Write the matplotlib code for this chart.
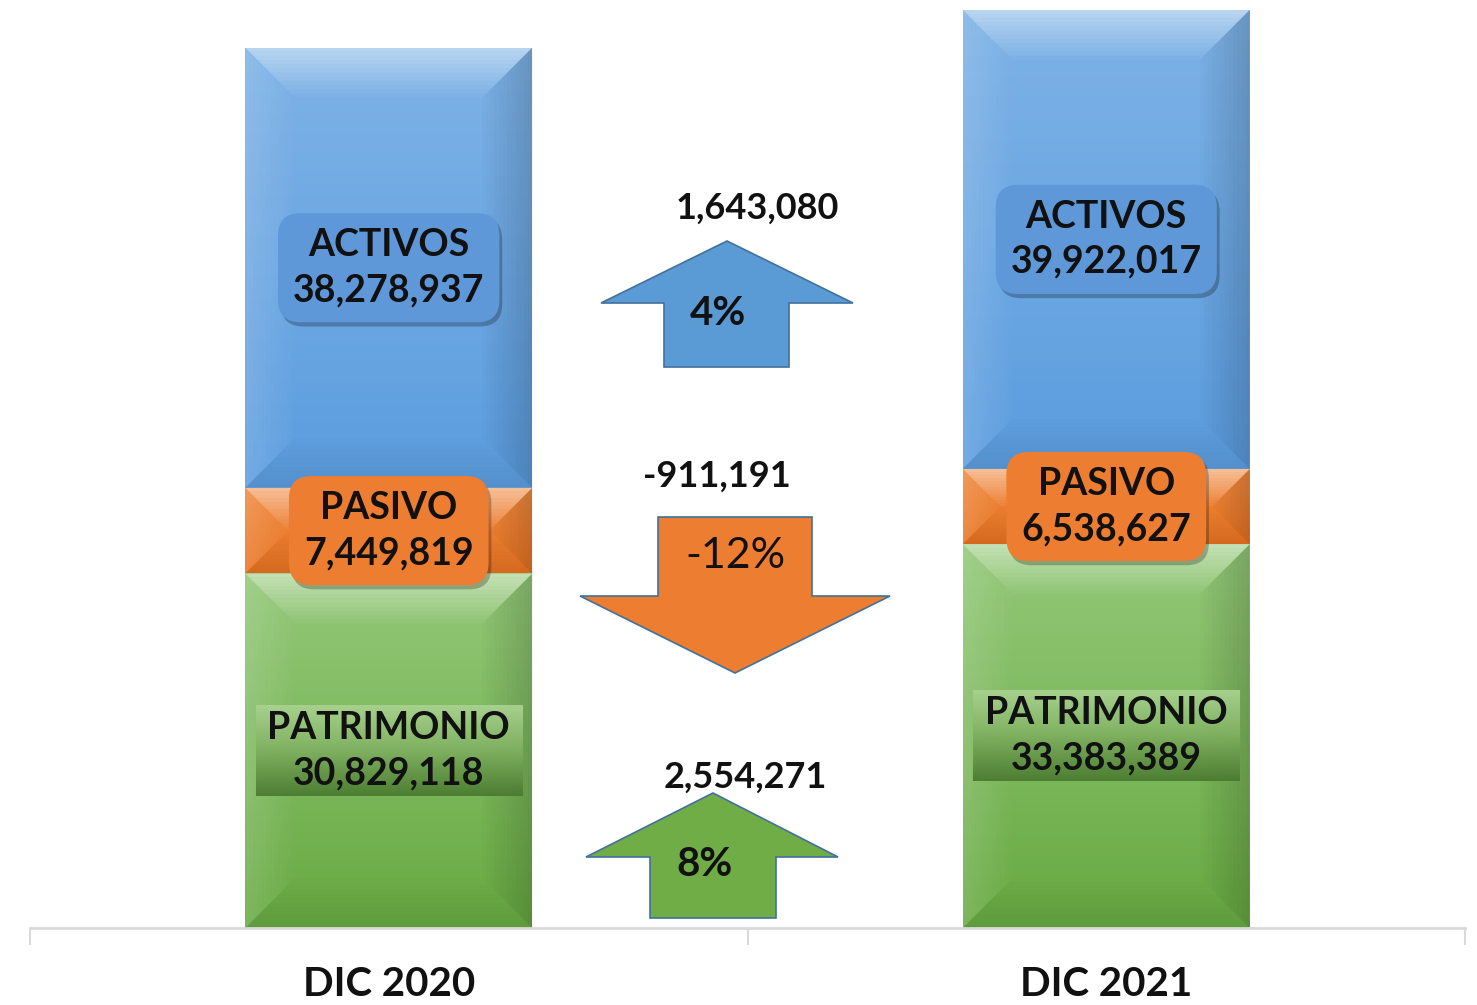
import numpy as np
import matplotlib
matplotlib.use('Agg')
import matplotlib.pyplot as plt
from matplotlib.colors import LinearSegmentedColormap
from matplotlib.patches import Polygon
import matplotlib.patheffects as pe

plt.rcParams['font.family'] = ['Lato', 'DejaVu Sans']

# data
periodos = ['DIC 2020', 'DIC 2021']
patrimonio = [30829118, 33383389]
pasivo = [7449819, 6538627]
activos = [38278937, 39922017]
variacion = [1643080, -911191, 2554271]
variacion_pct = ['4%', '-12%', '8%']

W, H = 1477, 1005
fig = plt.figure(figsize=(W / 100, H / 100), dpi=100)
ax = fig.add_axes([30 / W, 77 / H, 1435 / W, 928 / H])
ax.set_xlim(-0.5, 1.5)
ax.set_ylim(0, 80.7e6)

x = np.arange(len(periodos))
bw = 0.40

series = [
    ('PATRIMONIO', patrimonio, '#93c878', '#68aa42'),
    ('PASIVO', pasivo, '#f08a40', '#e87422'),
    ('ACTIVOS', activos, '#7db2e6', '#5c9ddf'),
]

# pixel -> data scale
sx = 2.0 / 1435
sy = 80.7e6 / 928

bottom = np.zeros(len(x))
segs = []
for name, vals, c_top, c_bot in series:
    bars = ax.bar(x, vals, bw, bottom=bottom, color=c_bot, edgecolor='none', zorder=2)
    cmap = LinearSegmentedColormap.from_list(name, [c_bot, c_top])
    for b in bars:
        x0, y0 = b.get_x(), b.get_y()
        x1, y1 = x0 + b.get_width(), y0 + b.get_height()
        grad = np.linspace(0, 1, 100).reshape(-1, 1)
        im = ax.imshow(grad, extent=(x0, x1, y0, y1), origin='lower', cmap=cmap,
                       aspect='auto', zorder=2.1)
        im.set_clip_path(b)
        # soft bevel: nested bands fading inward
        hpx = b.get_height() / sy
        d = min(50, hpx / 2)
        nb = 12
        for k in range(nb):
            f0, f1 = k / nb, (k + 1) / nb
            a0x, a0y = d * f0 * sx, d * f0 * sy
            a1x, a1y = d * f1 * sx, d * f1 * sy
            fade = 1 - k / nb
            top = [(x0 + a0x, y1 - a0y), (x1 - a0x, y1 - a0y), (x1 - a1x, y1 - a1y), (x0 + a1x, y1 - a1y)]
            bot = [(x0 + a0x, y0 + a0y), (x1 - a0x, y0 + a0y), (x1 - a1x, y0 + a1y), (x0 + a1x, y0 + a1y)]
            lft = [(x0 + a0x, y0 + a0y), (x0 + a0x, y1 - a0y), (x0 + a1x, y1 - a1y), (x0 + a1x, y0 + a1y)]
            rgt = [(x1 - a0x, y0 + a0y), (x1 - a0x, y1 - a0y), (x1 - a1x, y1 - a1y), (x1 - a1x, y0 + a1y)]
            ax.add_patch(Polygon(top, closed=True, fc='white', alpha=0.45 * fade, ec='none', zorder=2.2))
            ax.add_patch(Polygon(lft, closed=True, fc='white', alpha=0.14 * fade, ec='none', zorder=2.2))
            ax.add_patch(Polygon(rgt, closed=True, fc='black', alpha=0.16 * fade, ec='none', zorder=2.2))
            ax.add_patch(Polygon(bot, closed=True, fc='black', alpha=0.08 * fade, ec='none', zorder=2.2))
        segs.append((name, (x0 + x1) / 2, (y0 + y1) / 2, b.get_height()))
    bottom = bottom + np.array(vals)

ax.set_xlim(-0.5, 1.5)
ax.set_ylim(0, 80.7e6)

# segment labels
shadow = [pe.withSimplePatchShadow(offset=(2, -3), shadow_rgbFace='black', alpha=0.25)]
patr_texts = []
for name, cx, cy, val in segs:
    label = f'{name}\n{val:,.0f}'
    kw = dict(ha='center', va='center', fontsize=27, fontweight='bold',
              color='#111111', linespacing=1.4, zorder=5)
    if name == 'ACTIVOS':
        t = ax.text(cx, cy, label, **kw,
                    bbox=dict(boxstyle='round,pad=0.4,rounding_size=0.6', fc='#5f98d8', ec='none'))
        t.get_bbox_patch().set_path_effects(shadow)
    elif name == 'PASIVO':
        t = ax.text(cx, cy, label, **kw,
                    bbox=dict(boxstyle='round,pad=0.4,rounding_size=0.6', fc='#ed7d31', ec='none'))
        t.get_bbox_patch().set_path_effects(shadow)
    else:
        t = ax.text(cx, cy, label, **kw,
                    bbox=dict(boxstyle='square,pad=0.1', fc='none', ec='none'))
        patr_texts.append(t)

# axis styling
for s in ['top', 'right', 'left']:
    ax.spines[s].set_visible(False)
ax.spines['bottom'].set_color('#d9d9d9')
ax.spines['bottom'].set_linewidth(2)
ax.set_yticks([])
ax.set_xticks([-0.5, 0.5, 1.5])
ax.set_xticklabels([])
ax.tick_params(axis='x', which='major', length=12, width=1.5, color='#d9d9d9')
ax.set_xticks(x, minor=True)
ax.set_xticklabels(periodos, minor=True, fontsize=29, fontweight='bold', color='#111111')
ax.tick_params(axis='x', which='minor', length=0, pad=27)

# gradient boxes behind PATRIMONIO labels
fig.canvas.draw()
inv = ax.transData.inverted()
pcmap = LinearSegmentedColormap.from_list('patr', ['#4b7b31', '#7fb060', '#a9d290'])
for t in patr_texts:
    bb = t.get_bbox_patch().get_window_extent()
    (bx0, by0), (bx1, by1) = inv.transform([(bb.x0 - 8, bb.y0 - 2), (bb.x1 + 8, bb.y1 + 2)])
    grad = np.linspace(0, 1, 100).reshape(-1, 1)
    ax.imshow(grad, extent=(bx0, bx1, by0, by1), origin='lower', cmap=pcmap,
              aspect='auto', zorder=4, alpha=0.95)
ax.set_xlim(-0.5, 1.5)
ax.set_ylim(0, 80.7e6)


# change arrows (layout in pixel coords)
def px(pts):
    return [(a / W, 1 - b / H) for a, b in pts]


arrows = [
    # color, polygon, pct pos, value pos, pct weight
    ('#5b9bd5', [(727, 241), (853, 303), (789, 303), (789, 367), (664, 367), (664, 303), (601, 303)],
     (718, 313), (757, 208), 'bold'),
    ('#ed7d31', [(658, 517), (812, 517), (812, 596), (890, 596), (735, 673), (580, 596), (658, 596)],
     (735, 556), (717, 476), 'normal'),
    ('#70ad47', [(713, 793), (838, 857), (776, 857), (776, 918), (650, 918), (650, 857), (586, 857)],
     (705, 864), (745, 777), 'bold'),
]
for (col, poly, ppos, vpos, wt), val, pct in zip(arrows, variacion, variacion_pct):
    fig.patches.append(Polygon(px(poly), closed=True, fc=col, ec='#41719c', lw=1.2,
                               transform=fig.transFigure, zorder=3))
    fig.text(ppos[0] / W, 1 - ppos[1] / H, pct, ha='center', va='center',
             fontsize=29 if wt == 'bold' else 31, fontweight=wt, color='#111111', zorder=6)
    fig.text(vpos[0] / W, 1 - vpos[1] / H, f'{val:,}', ha='center', va='center',
             fontsize=26, fontweight='bold', color='#111111', zorder=6)

fig.savefig('out.png', dpi=100)
